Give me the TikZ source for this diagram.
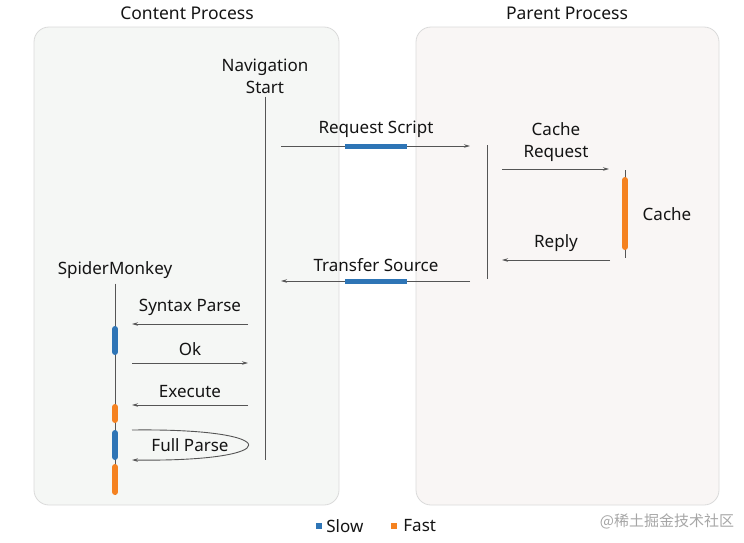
\documentclass[tikz,border=0pt]{standalone}
\usepackage{fontspec}
\setmainfont{Noto Sans}
\newfontfamily\cjkfont{Noto Sans CJK SC}
\usetikzlibrary{arrows.meta, positioning, calc}

\definecolor{slowblue}{HTML}{2E75B6}
\definecolor{fastorange}{HTML}{F58220}
\definecolor{linegrey}{HTML}{555555}
\definecolor{contentbg}{HTML}{F5F7F5}
\definecolor{parentbg}{HTML}{F9F6F5}
\definecolor{boxline}{HTML}{DADADA}

\tikzset{
  lbl/.style={font=\fontsize{17}{22}\selectfont, inner sep=0pt, align=center, text=black!92},
  title/.style={lbl, font=\fontsize{17.5}{20}\selectfont},
  msg/.style={draw=linegrey, line width=0.9pt, -{Stealth[length=6pt,width=3.5pt]}},
  life/.style={draw=linegrey, line width=0.9pt},
  procbox/.style={draw=boxline, line width=0.8pt, rounded corners=15pt},
  hbar/.style={line width=5pt},
  vbar/.style={line width=6pt, line cap=round},
  legsq/.style={minimum size=6pt, inner sep=0pt}
}

\begin{document}
\begin{tikzpicture}[x=1pt, y=-1pt]

  \useasboundingbox (0,0) rectangle (744,542);

  % x positions of the lifelines
  \def\xNav{265}
  \def\xPar{487}
  \def\xCache{625}
  \def\xSM{115}

  % process boxes
  \draw[procbox, fill=contentbg] (34,27) rectangle (339,505);
  \draw[procbox, fill=parentbg] (416,27) rectangle (719,505);
  \node[title] (contentTitle) at (187,13) {Content Process};
  \node[title] (parentTitle) at (567,13) {Parent Process};

  % lifeline heads
  \node[lbl] (navStart) at (\xNav,76) {Navigation\\Start};
  \node[lbl] (spiderMonkey) at (\xSM,270) {SpiderMonkey};
  \node[lbl] (cacheLbl) at (667,214) {Cache};

  % lifelines
  \coordinate (navEnd) at (\xNav,460);
  \draw[life, shorten <=3pt] (navStart) -- (navEnd);
  \coordinate (parTop) at (\xPar,145);
  \coordinate (parEnd) at (\xPar,279);
  \draw[life] (parTop) -- (parEnd);
  \coordinate (cacheTop) at (\xCache,170);
  \coordinate (cacheEnd) at (\xCache,258);
  \draw[life] (cacheTop) -- (cacheEnd);
  \coordinate (smEnd) at (\xSM,495);
  \draw[life, shorten <=5pt] (spiderMonkey) -- (smEnd);

  % Request Script (right)
  \coordinate (reqFrom) at (281,146);
  \coordinate (reqTo) at (470,146);
  \draw[msg] (reqFrom) -- (reqTo);
  \draw[hbar, slowblue] (345,146) -- (407,146);
  \node[lbl] (reqLbl) at (376,129) {Request Script};

  % Cache Request (right)
  \coordinate (creqFrom) at (502,169);
  \coordinate (creqTo) at (609,169);
  \draw[msg] (creqFrom) -- (creqTo);
  \node[lbl] (creqLbl) at (556,142) {Cache\\Request};

  % Cache activity
  \draw[vbar, fastorange] (\xCache,180) -- (\xCache,247);

  % Reply (left)
  \coordinate (replyFrom) at (610,260);
  \coordinate (replyTo) at (502,260);
  \draw[msg] (replyFrom) -- (replyTo);
  \node[lbl] (replyLbl) at (556,243) {Reply};

  % Transfer Source (left)
  \coordinate (tsFrom) at (470,281);
  \coordinate (tsTo) at (281,281);
  \draw[msg] (tsFrom) -- (tsTo);
  \draw[hbar, slowblue] (345,281) -- (407,281);
  \node[lbl] (tsLbl) at (376,265) {Transfer Source};

  % SpiderMonkey activity
  \draw[vbar, slowblue] (\xSM,329) -- (\xSM,352);
  \draw[vbar, fastorange] (\xSM,407) -- (\xSM,420);
  \draw[vbar, slowblue] (\xSM,433) -- (\xSM,457);
  \draw[vbar, fastorange] (\xSM,467) -- (\xSM,492);

  % Syntax Parse (left)
  \coordinate (spFrom) at (248,324);
  \coordinate (spTo) at (132,324);
  \draw[msg] (spFrom) -- (spTo);
  \node[lbl] (spLbl) at (190,307) {Syntax Parse};

  % Ok (right)
  \coordinate (okFrom) at (132,363);
  \coordinate (okTo) at (248,363);
  \draw[msg] (okFrom) -- (okTo);
  \node[lbl] (okLbl) at (190,349) {Ok};

  % Execute (left)
  \coordinate (exFrom) at (248,405);
  \coordinate (exTo) at (132,405);
  \draw[msg] (exFrom) -- (exTo);
  \node[lbl] (exLbl) at (190,392) {Execute};

  % Full Parse (loop)
  \coordinate (fpFrom) at (132,430);
  \coordinate (fpTo) at (132,460);
  \draw[msg] (fpFrom) .. controls (287,428) and (287,462) .. (fpTo);
  \node[lbl] (fpLbl) at (190,445) {Full Parse};

  % legend
  \node[legsq, fill=slowblue] (slowKey) at (319,526) {};
  \node[lbl, right=4pt of slowKey] (slowLbl) {Slow};
  \node[legsq, fill=fastorange] (fastKey) at (394,526) {};
  \node[lbl, right=6pt of fastKey] (fastLbl) {Fast};

  % watermark
  \node[lbl, font=\cjkfont\fontsize{15}{16}\selectfont, text=black!35] (mark) at (667,521) {@稀土掘金技术社区};

\end{tikzpicture}
\end{document}
